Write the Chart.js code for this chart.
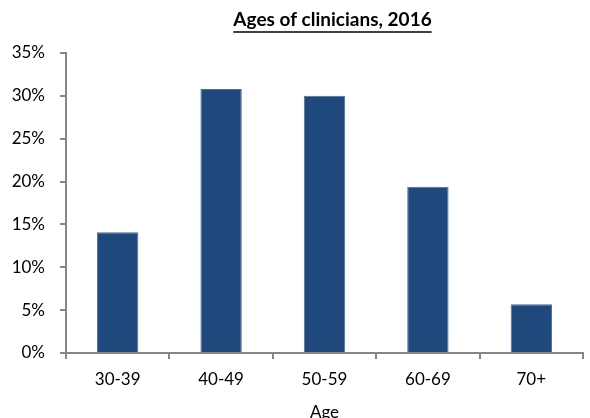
<!DOCTYPE html>
<html>
<head>
<meta charset="utf-8">
<script src="https://cdn.jsdelivr.net/npm/chart.js@4/dist/chart.umd.min.js"></script>
<style>
  html, body { margin: 0; padding: 0; background: #fff; }
  #wrap { width: 590px; height: 418px; }
</style>
</head>
<body>
<div id="wrap"><canvas id="ages-chart"></canvas></div>
<script>
const ageGroups = ["30-39", "40-49", "50-59", "60-69", "70+"]
const shareOfClinicians = [14.1, 30.8, 30.0, 19.4, 5.7]
const chartTitle = "Ages of clinicians, 2016"

const axisGray = "#868686"
const fontName = "Lato, 'Open Sans', sans-serif"

// title is drawn by hand so it can be underlined and centred on the plot
const underlinedTitle = {
  id: "underlinedTitle",
  afterDraw(chart) {
    const ctx = chart.ctx
    const area = chart.chartArea
    const x = (area.left + area.right) / 2 + 8
    const y = area.top - 33
    ctx.save()
    ctx.font = "bold 19px " + fontName
    ctx.fillStyle = "#000"
    ctx.textAlign = "center"
    ctx.textBaseline = "middle"
    ctx.fillText(chartTitle, x, y)
    const w = ctx.measureText(chartTitle).width
    ctx.strokeStyle = "#000"
    ctx.lineWidth = 1.5
    ctx.beginPath()
    ctx.moveTo(x - w / 2, y + 12)
    ctx.lineTo(x + w / 2, y + 12)
    ctx.stroke()
    ctx.restore()
  }
}

const agesCanvas = document.getElementById("ages-chart")
const agesChart = new Chart(agesCanvas, {
  type: "bar",
  data: {
    labels: ageGroups,
    datasets: [{
      data: shareOfClinicians,
      backgroundColor: "#1f497d",
      borderColor: "#4f6f99",
      borderWidth: 1,
      categoryPercentage: 1,
      barPercentage: 0.4
    }]
  },
  options: {
    responsive: true,
    maintainAspectRatio: false,
    animation: false,
    layout: { padding: { top: 53, right: 7, left: 0, bottom: 0 } },
    plugins: {
      legend: { display: false },
      title: { display: false },
      tooltip: { enabled: false }
    },
    scales: {
      x: {
        afterFit(scale) { scale.height = 65 },
        border: { color: axisGray, width: 2 },
        grid: { display: true, drawOnChartArea: false, drawTicks: true, tickLength: 6, color: axisGray, lineWidth: 2, offset: true },
        ticks: { color: "#000", font: { family: fontName, size: 17 }, padding: 10 },
        title: { display: true, text: "Age", color: "#000", font: { family: fontName, size: 17 }, padding: { top: 0, bottom: -5 } }
      },
      y: {
        min: 0,
        max: 35,
        afterFit(scale) { scale.width = 66 },
        border: { color: axisGray, width: 2 },
        grid: { display: true, drawOnChartArea: false, drawTicks: true, tickLength: 6, color: axisGray, lineWidth: 2 },
        ticks: {
          stepSize: 5,
          color: "#000",
          font: { family: fontName, size: 17 },
          padding: 15,
          callback: v => v + "%"
        }
      }
    }
  },
  plugins: [underlinedTitle]
})
</script>
</body>
</html>
